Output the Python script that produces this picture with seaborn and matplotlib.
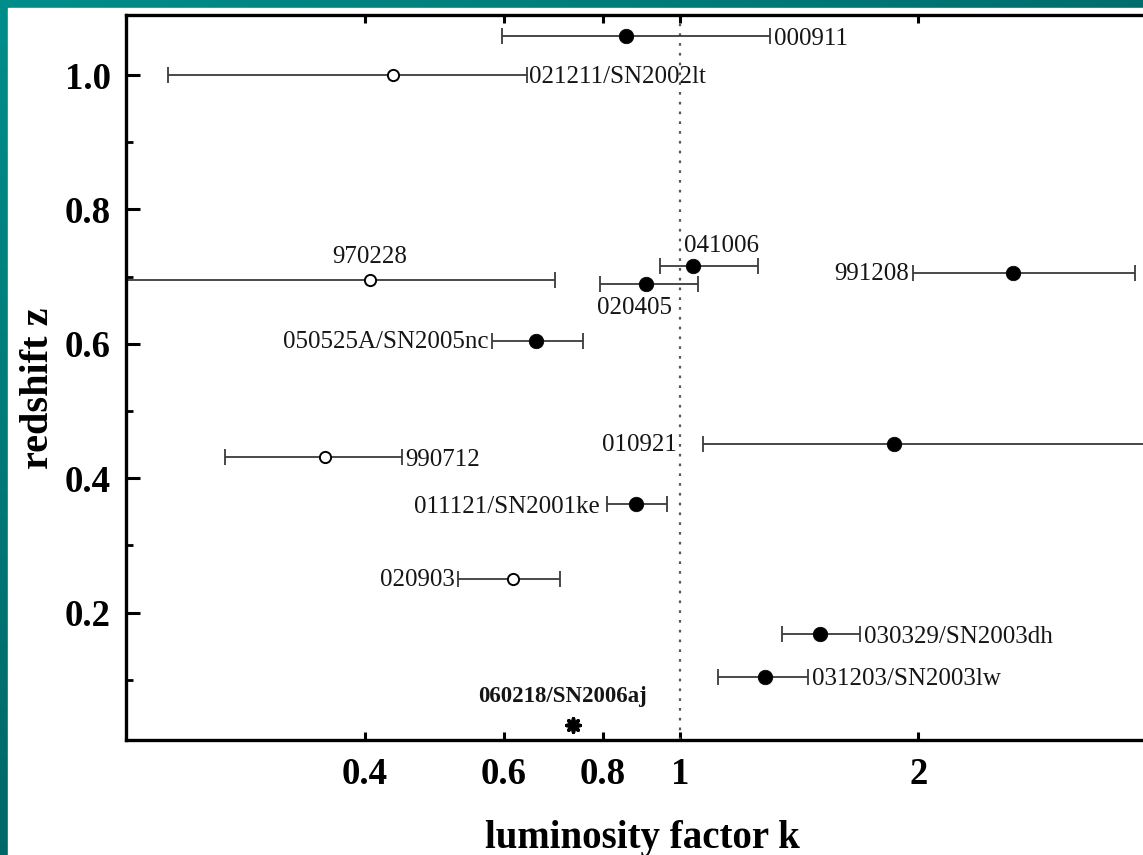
import numpy as np
import pandas as pd
import matplotlib
matplotlib.use("Agg")
import matplotlib.pyplot as plt
import seaborn as sns
from matplotlib.patches import Rectangle
from matplotlib.ticker import FixedLocator, FixedFormatter, NullLocator

# ---------------- data ----------------
names = ["000911", "021211/SN2002lt", "970228", "041006", "020405", "991208",
         "050525A/SN2005nc", "010921", "990712", "011121/SN2001ke", "020903",
         "030329/SN2003dh", "031203/SN2003lw"]
k_val = [0.855, 0.4345, 0.4064, 1.0385, 0.906, 2.63, 0.658, 1.862, 0.3567, 0.880, 0.616, 1.502, 1.280]
k_low = [0.596, 0.2262, 0.15, 0.944, 0.793, 1.967, 0.579, 1.069, 0.2668, 0.809, 0.525, 1.345, 1.117]
k_high = [1.299, 0.641, 0.696, 1.254, 1.054, 3.75, 0.755, 5.0, 0.446, 0.963, 0.706, 1.686, 1.450]
z_val = [1.058, 1.0, 0.695, 0.716, 0.689, 0.7055, 0.604, 0.451, 0.4317, 0.3618, 0.2502, 0.1684, 0.1044]
is_open = [False, True, True, False, False, False, False, False, True, False, True, False, False]

special_name = "060218/SN2006aj"
special_k = [0.733]
special_z = [0.033]

x_ticks = [0.4, 0.6, 0.8, 1, 2]
x_ticklabels = ["0.4", "0.6", "0.8", "1", "2"]
y_ticks = [0.2, 0.4, 0.6, 0.8, 1.0]
y_ticklabels = ["0.2", "0.4", "0.6", "0.8", "1.0"]
y_minor = [0.1, 0.3, 0.5, 0.7, 0.9]

# label layout: (anchor, dx px, dy px, ha)
label_layout = {
    "000911": ("hi", 4, -3, "left"),
    "021211/SN2002lt": ("hi", 2, -2, "left"),
    "970228": ("pt", 0, 23, "center"),
    "041006": ("pt", 29, 20, "center"),
    "020405": ("pt", -11, -24, "center"),
    "991208": ("lo", -4, -1, "right"),
    "050525A/SN2005nc": ("lo", -3, -1, "right"),
    "010921": ("lo", -26, -1, "right"),
    "990712": ("hi", 3, -3, "left"),
    "011121/SN2001ke": ("lo", -7, -3, "right"),
    "020903": ("lo", -3, -1, "right"),
    "030329/SN2003dh": ("hi", 4, -3, "left"),
    "031203/SN2003lw": ("hi", 4, -2, "left"),
}

df = pd.DataFrame({"name": names, "k": k_val, "lo": k_low, "hi": k_high,
                   "z": z_val, "open": is_open})

# ---------------- style ----------------
sns.set_theme(style="ticks")
plt.rcParams["font.family"] = ["Liberation Serif", "DejaVu Serif"]
plt.rcParams["text.color"] = "black"
plt.rcParams["xtick.color"] = "black"
plt.rcParams["ytick.color"] = "black"

W, H = 1143, 855
fig = plt.figure(figsize=(W / 100, H / 100), dpi=100)

# teal frame background
bg = fig.add_axes([0, 0, 1, 1], zorder=-10)
yy, xx = np.mgrid[0:1:200j, 0:1:200j]
t = np.clip(0.6 * yy + 0.5 * xx, 0, 1)
c0 = np.array([0, 142, 138]) / 255
c1 = np.array([0, 78, 80]) / 255
img = c0[None, None, :] * (1 - t[..., None]) + c1[None, None, :] * t[..., None]
bg.imshow(img, extent=[0, 1, 0, 1], aspect="auto", origin="upper")
bg.add_patch(Rectangle((8 / W, 0), 1, (H - 8) / H, color="white", transform=bg.transAxes))
bg.set_xlim(0, 1); bg.set_ylim(0, 1)
bg.axis("off")

left_px, right_px, top_px, bottom_px = 126, 1157, 15, 740
ax = fig.add_axes([left_px / W, (H - bottom_px) / H, (right_px - left_px) / W, (bottom_px - top_px) / H])
ax.set_facecolor("white")

ax.set_xscale("log")
ax.set_xlim(0.2, 4.0)
ax.set_ylim(0.0104, 1.0893)

# vertical dotted line at k=1
ax.axvline(1.0, color="#555555", lw=1.6, ls=(0, (1.2, 3.2)), zorder=1)

# error bars
ax.errorbar(df["k"], df["z"],
            xerr=[df["k"] - df["lo"], df["hi"] - df["k"]],
            fmt="none", ecolor="#3a3a3a", elinewidth=1.3, capsize=5.5, capthick=1.3, zorder=2)

# points
filled = df[~df["open"]]
opened = df[df["open"]]
sns.scatterplot(data=filled, x="k", y="z", ax=ax, s=110, color="black",
                edgecolor="black", linewidth=0.5, zorder=3, legend=False)
sns.scatterplot(data=opened, x="k", y="z", ax=ax, s=65, color="white",
                edgecolor="black", linewidth=1.4, zorder=3, legend=False)
sns.scatterplot(x=special_k, y=special_z, ax=ax, marker=(8, 2, 0), s=90, color="black",
                edgecolor="black", linewidth=2.6, zorder=3, legend=False)

# labels
for _, r in df.iterrows():
    anc, dx, dy, ha = label_layout[r["name"]]
    xa = {"hi": r["hi"], "lo": r["lo"], "pt": r["k"]}[anc]
    ax.annotate(r["name"], xy=(xa, r["z"]), xytext=(dx * 0.72, dy * 0.72),
                textcoords="offset points", ha=ha, va="center",
                fontsize=18, color="#151515", zorder=4)
ax.annotate(special_name, xy=(special_k[0], special_z[0]), xytext=(-10 * 0.72, 28 * 0.72),
            textcoords="offset points", ha="center", va="center",
            fontsize=16.5, fontweight="bold", color="#151515", zorder=4)

# ticks / spines
ax.xaxis.set_major_locator(FixedLocator(x_ticks))
ax.xaxis.set_major_formatter(FixedFormatter(x_ticklabels))
ax.xaxis.set_minor_locator(NullLocator())
ax.yaxis.set_major_locator(FixedLocator(y_ticks))
ax.yaxis.set_major_formatter(FixedFormatter(y_ticklabels))
ax.yaxis.set_minor_locator(FixedLocator(y_minor))

for s in ax.spines.values():
    s.set_linewidth(2.4)
    s.set_color("black")
    s.set_visible(True)

ax.tick_params(axis="x", which="major", direction="in", length=6, width=2.2,
               top=True, bottom=True, labelsize=26.5, pad=12, color="black", labelcolor="black")
ax.tick_params(axis="y", which="major", direction="in", length=10, width=2.2,
               left=True, right=True, labelsize=26.5, pad=11, color="black", labelcolor="black")
ax.tick_params(axis="y", which="minor", direction="in", length=5, width=2.0,
               left=True, right=True, color="black")
for lab in ax.get_xticklabels() + ax.get_yticklabels():
    lab.set_fontweight("bold")

ax.set_xlabel("")
ax.set_ylabel("")
fig.text(642 / W, 1 - 838 / H, "luminosity factor k", ha="center", va="center",
         fontsize=28, fontweight="bold", color="black")
fig.text(38 / W, 1 - 388 / H, "redshift z", ha="center", va="center",
         rotation=90, fontsize=29, fontweight="bold", color="black")

fig.savefig("out.png", dpi=100, facecolor="white")
